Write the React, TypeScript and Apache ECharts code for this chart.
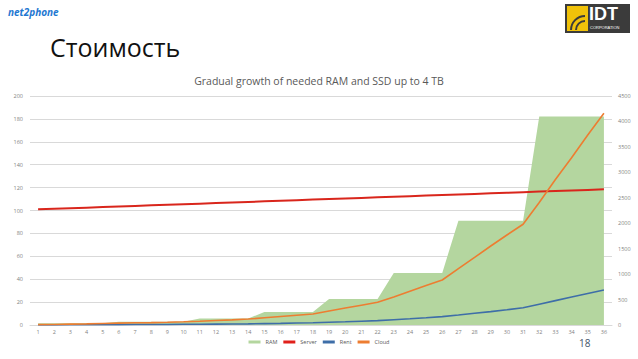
import React, { useEffect, useRef } from "react";
import * as echarts from "echarts";

const categories = ["1","2","3","4","5","6","7","8","9","10","11","12","13","14","15","16","17","18","19","20","21","22","23","24","25","26","27","28","29","30","31","32","33","34","35","36"];
const ramValues = [32,32,32,32,32,64,64,64,64,64,128,128,128,128,256,256,256,256,512,512,512,512,1024,1024,1024,1024,2048,2048,2048,2048,2048,4096,4096,4096,4096,4096];
const serverValues = [101,101.5,102,102.5,103,103.5,104,104.5,105,105.5,106,106.5,107,107.5,108,108.5,109,109.5,110,110.5,111,111.5,112,112.5,113,113.5,114,114.5,115,115.5,116,116.5,117,117.5,118,118.5];
const rentValues = [0.1,0.1,0.2,0.2,0.3,0.3,0.4,0.5,0.5,0.6,0.7,0.8,0.9,1.0,1.2,1.4,1.7,2.0,2.4,2.8,3.3,3.8,4.6,5.4,6.3,7.3,8.7,10.2,11.7,13.3,15.1,18.2,21.3,24.4,27.5,30.6];
const cloudValues = [0.3,0.5,0.8,1.0,1.3,1.6,1.9,2.1,2.4,2.8,3.3,3.9,4.5,5.2,6.3,7.4,8.5,9.6,12.2,14.8,17.3,19.8,24.5,29.5,34.4,39.3,49.2,59,69,78.6,88,107,127,146,166,185];

const FONT = "'Open Sans', 'Noto Sans', sans-serif";

export default function App() {
  const ref = useRef<HTMLDivElement>(null);
  useEffect(() => {
    document.body.style.margin = "0";
    const chart = echarts.init(ref.current!, null, { renderer: "svg" });
    const axisLabel = { color: "#7f7f7f", fontSize: 5.5, fontFamily: FONT };
    chart.setOption({
      animation: false,
      backgroundColor: "#ffffff",
      textStyle: { fontFamily: FONT },
      title: {
        text: "Gradual growth of needed RAM and SSD up to 4 TB",
        left: "center",
        top: 70,
        textStyle: { fontSize: 10.5, fontWeight: "normal", color: "#595959", fontFamily: FONT },
      },
      legend: {
        bottom: 9,
        left: "center",
        itemGap: 6,
        itemWidth: 12,
        itemHeight: 3,
        textStyle: { fontSize: 5.5, color: "#595959", fontFamily: FONT },
        data: [
          { name: "RAM", icon: "rect" },
          { name: "Server", icon: "rect", itemStyle: { color: "#e0201b" } },
          { name: "Rent", icon: "rect" },
          { name: "Cloud", icon: "rect" },
        ],
      },
      grid: { left: 30, right: 26, top: 96, bottom: 34 },
      xAxis: {
        type: "category",
        data: categories,
        boundaryGap: true,
        axisLine: { lineStyle: { color: "#d9d9d9" } },
        axisTick: { show: false },
        axisLabel: { ...axisLabel, margin: 4, interval: 0 },
      },
      yAxis: [
        {
          type: "value",
          min: 0,
          max: 200,
          interval: 20,
          axisLine: { show: false },
          axisTick: { show: false },
          splitLine: { lineStyle: { color: "#d9d9d9", width: 1 } },
          axisLabel: { ...axisLabel, margin: 7 },
        },
        {
          type: "value",
          min: 0,
          max: 4500,
          interval: 500,
          axisLine: { show: false },
          axisTick: { show: false },
          splitLine: { show: false },
          axisLabel: { ...axisLabel, margin: 6, formatter: (v: number) => String(v) },
        },
      ],
      series: [
        {
          name: "RAM",
          type: "line",
          yAxisIndex: 1,
          data: ramValues,
          symbol: "none",
          lineStyle: { width: 0 },
          itemStyle: { color: "#b4d69f" },
          areaStyle: { color: "#b4d69f", opacity: 1 },
          z: 1,
        },
        {
          name: "Server",
          type: "line",
          yAxisIndex: 0,
          data: serverValues,
          symbol: "none",
          lineStyle: { width: 2, color: "#d9261c" },
          itemStyle: { color: "#d9261c" },
          z: 3,
        },
        {
          name: "Rent",
          type: "line",
          yAxisIndex: 0,
          data: rentValues,
          symbol: "none",
          lineStyle: { width: 1.6, color: "#3e6ea8" },
          itemStyle: { color: "#3e6ea8" },
          z: 3,
        },
        {
          name: "Cloud",
          type: "line",
          yAxisIndex: 0,
          data: cloudValues,
          symbol: "none",
          lineStyle: { width: 1.6, color: "#ed7d31" },
          itemStyle: { color: "#ed7d31" },
          z: 4,
        },
      ],
      graphic: [
        {
          type: "text",
          left: 8,
          top: 7,
          style: {
            text: "net2phone",
            fill: "#1f78d1",
            font: "italic bold 10px 'Open Sans', sans-serif",
          },
        },
        {
          type: "text",
          left: 50,
          top: 34,
          style: {
            text: "Стоимость",
            fill: "#111111",
            font: "25px 'Open Sans', 'Noto Sans', sans-serif",
          },
        },
        {
          type: "group",
          left: 565,
          top: 4,
          children: [
            { type: "rect", shape: { x: 0, y: 0, width: 65, height: 29 }, style: { fill: "#3b3b3b" } },
            { type: "rect", shape: { x: 2, y: 2, width: 21, height: 25 }, style: { fill: "#f0c20a" } },
            { type: "arc", shape: { cx: 20, cy: 26, r: 14, startAngle: Math.PI, endAngle: Math.PI * 1.5 }, style: { stroke: "#3b3b3b", lineWidth: 2, fill: "none" } },
            { type: "arc", shape: { cx: 20, cy: 26, r: 9, startAngle: Math.PI, endAngle: Math.PI * 1.5 }, style: { stroke: "#3b3b3b", lineWidth: 2, fill: "none" } },
            { type: "text", x: 24, y: 1, style: { text: "IDT", fill: "#ffffff", font: "bold 18px 'Liberation Sans', sans-serif" } },
            { type: "text", x: 25, y: 21, style: { text: "CORPORATION", fill: "#ffffff", font: "4px 'Liberation Sans', sans-serif" } },
          ],
        },
        {
          type: "text",
          left: 579,
          top: 338,
          style: { text: "18", fill: "#44546a", font: "10px 'Open Sans', sans-serif" },
        },
      ],
    });
    return () => chart.dispose();
  }, []);
  return <div ref={ref} style={{ position: "fixed", left: 0, top: 0, width: 638, height: 359 }} />;
}
